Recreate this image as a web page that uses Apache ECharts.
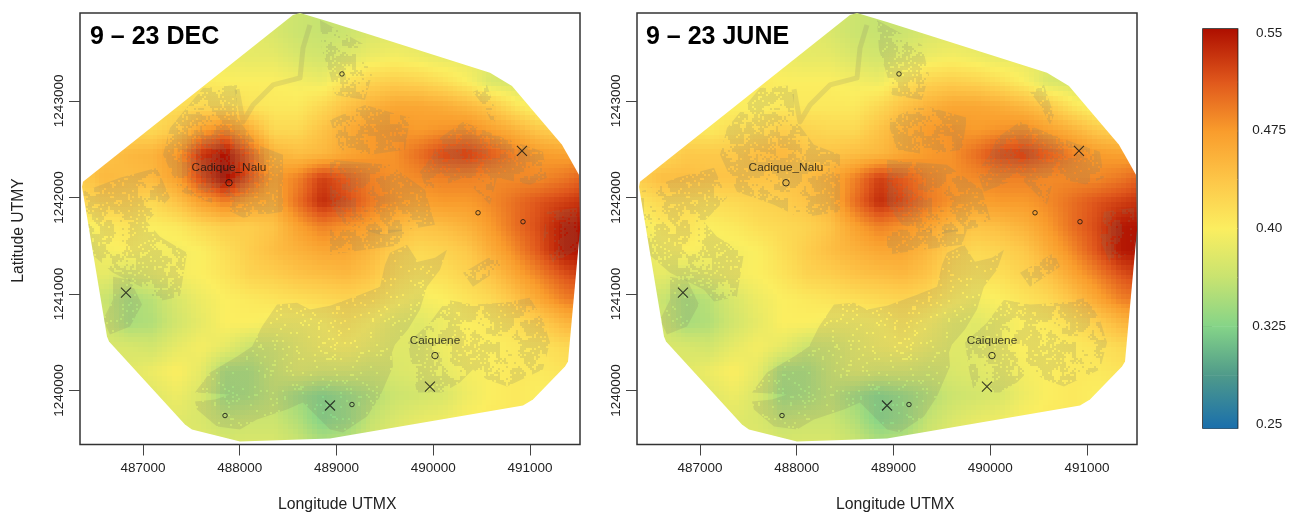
<!DOCTYPE html>
<html><head><meta charset="utf-8">
<style>html,body{margin:0;padding:0;background:#fff}#c{width:1289px;height:512px}</style>
<script src="https://cdn.jsdelivr.net/npm/echarts@6/dist/echarts.min.js"></script>
</head><body><div id="c"></div>
<script>
const xNodes = [486350,486600,486850,487100,487350,487600,487850,488100,488350,488600,488850,489100,489350,489600,489850,490100,490350,490600,490850,491100,491350,491600];
const yNodes = [1243950,1243700,1243450,1243200,1242950,1242700,1242450,1242200,1241950,1241700,1241450,1241200,1240950,1240700,1240450,1240200,1239950,1239700,1239450];

const decRows = [
[.39,.39,.39,.39,.39,.39,.39,.385,.375,.365,.36,.365,.375,.38,.38,.375,.375,.375,.375,.375,.375,.375],
[.39,.39,.39,.39,.39,.39,.39,.385,.375,.365,.362,.365,.375,.38,.38,.375,.375,.375,.375,.375,.375,.375],
[.395,.395,.395,.395,.395,.395,.39,.385,.385,.375,.37,.38,.39,.395,.39,.385,.385,.38,.38,.38,.38,.38],
[.41,.41,.41,.41,.41,.405,.40,.40,.40,.395,.39,.41,.425,.43,.425,.415,.40,.375,.37,.37,.37,.37],
[.41,.41,.41,.415,.415,.42,.42,.41,.405,.405,.42,.44,.455,.465,.465,.46,.45,.435,.41,.39,.385,.385],
[.42,.42,.42,.42,.435,.47,.49,.46,.42,.42,.44,.46,.475,.48,.475,.48,.485,.47,.455,.435,.425,.425],
[.44,.44,.45,.455,.475,.53,.55,.51,.455,.445,.45,.465,.475,.48,.50,.52,.525,.51,.49,.475,.47,.47],
[.43,.45,.445,.45,.47,.52,.555,.515,.47,.49,.525,.51,.49,.48,.485,.49,.49,.485,.485,.485,.495,.51],
[.42,.43,.43,.42,.44,.47,.49,.47,.46,.50,.535,.52,.495,.48,.47,.475,.475,.485,.50,.515,.525,.535],
[.39,.405,.41,.40,.405,.42,.43,.43,.44,.47,.49,.48,.47,.45,.44,.445,.455,.475,.50,.52,.545,.55],
[.385,.395,.40,.395,.395,.40,.415,.43,.445,.455,.465,.465,.45,.43,.42,.425,.435,.46,.485,.515,.545,.55],
[.38,.385,.375,.385,.395,.40,.41,.425,.43,.44,.445,.45,.44,.42,.41,.415,.425,.44,.465,.49,.515,.53],
[.365,.365,.345,.355,.375,.39,.40,.405,.41,.415,.42,.425,.42,.405,.395,.40,.41,.42,.44,.465,.49,.50],
[.37,.37,.345,.35,.37,.385,.40,.40,.395,.395,.40,.41,.40,.385,.38,.39,.40,.405,.415,.43,.45,.46],
[.375,.375,.375,.37,.385,.395,.385,.365,.37,.385,.395,.40,.39,.38,.38,.39,.40,.40,.405,.41,.42,.42],
[.38,.38,.38,.39,.40,.385,.345,.345,.365,.38,.375,.375,.37,.375,.38,.385,.395,.40,.405,.405,.41,.41],
[.38,.38,.38,.38,.39,.375,.34,.345,.36,.34,.325,.335,.35,.365,.37,.375,.39,.40,.405,.40,.40,.40],
[.38,.38,.38,.38,.38,.375,.36,.365,.365,.35,.325,.335,.36,.375,.385,.39,.40,.405,.405,.40,.40,.40],
[.38,.38,.38,.38,.38,.38,.375,.375,.375,.365,.35,.355,.37,.385,.39,.395,.40,.405,.405,.40,.40,.40]
];
const juneRows = [
decRows[0],decRows[1],decRows[2],decRows[3],
[.405,.405,.405,.40,.40,.40,.405,.405,.405,.405,.42,.44,.455,.465,.465,.46,.45,.435,.41,.39,.385,.385],
[.41,.41,.41,.405,.415,.42,.43,.425,.42,.42,.44,.46,.475,.48,.475,.48,.485,.47,.455,.435,.425,.425],
[.42,.42,.435,.435,.435,.445,.45,.44,.44,.445,.45,.465,.475,.48,.50,.52,.525,.51,.49,.475,.47,.47],
[.43,.445,.445,.44,.44,.44,.44,.445,.46,.49,.525,.51,.49,.48,.485,.49,.49,.485,.485,.485,.495,.51],
[.41,.42,.42,.415,.42,.425,.43,.44,.455,.50,.535,.52,.495,.48,.47,.475,.475,.485,.50,.515,.525,.535],
[.39,.405,.41,.40,.405,.415,.42,.425,.44,.47,.49,.48,.47,.45,.44,.445,.455,.475,.50,.52,.545,.55],
decRows[10],decRows[11],decRows[12],decRows[13],decRows[14],decRows[15],decRows[16],decRows[17],decRows[18]
];

// Colour ramp
const rampStops  = [.25,.2875,.325,.3625,.40,.4375,.475,.5125,.55];
const rampColors = ['#1a6fac','#4f9a8a','#85d488','#c8e370','#fbee60','#fdc648','#f99c2c','#e0581c','#ae0f00'];

// Outline of the interpolated domain
const hullX = [488623,488933,490587,490814,491331,491506,491517,491393,491362,491031,490928,488933,488003,487506,487434,486649,486628,486370,486380,488550];
const hullY = [1243910,1243817,1243290,1243155,1242545,1242234,1241665,1240300,1240248,1239907,1239845,1239503,1239472,1239597,1239648,1240507,1240559,1242110,1242162,1243890];

// Land outlines [easting, northing]
const landDense = [
 [[487537,1239979],[487693,1240186],[487972,1240352],[488127,1240455],[488230,1240662],[488385,1240890],[488592,1240910],[488726,1240838],[488933,1240879],[489243,1240993],[489450,1241076],[489501,1241303],[489553,1241427],[489729,1241510],[489842,1241334],[490018,1241376],[490142,1241459],[490070,1241252],[489935,1241076],[489863,1240838],[489739,1240631],[489605,1240476],[489574,1240393],[489584,1240248],[489450,1239938],[489315,1239731],[489067,1239566],[488933,1239597],[488829,1239700],[488654,1239876],[488488,1239803],[488178,1239700],[488003,1239597],[487765,1239628],[487558,1239803],[487537,1239886],[487744,1239907],[487899,1239959]],
 [[486690,1241179],[486866,1241148],[486990,1240890],[486866,1240662],[486659,1240579],[486587,1240734],[486690,1240941]]
];
const landSparse = [
 [[489739,1240497],[489966,1240703],[490142,1240941],[490411,1240890],[490721,1240910],[490999,1240962],[491134,1240734],[491207,1240497],[491134,1240217],[490762,1240041],[490556,1240114],[490411,1240217],[490276,1240083],[490101,1239979],[489832,1239979],[489780,1240217]],
 [[487279,1242720],[487620,1243134],[487972,1243165],[487972,1242824],[488178,1242545],[488447,1242441],[488447,1241852],[488034,1241790],[487765,1241924],[487382,1242058],[487207,1242441]],
 [[486380,1242058],[486762,1242203],[487145,1242307],[487279,1241996],[487041,1241748],[487176,1241593],[487455,1241427],[487382,1240972],[487145,1240921],[487041,1241045],[486690,1241221],[486452,1241427]],
 [[488829,1243838],[489295,1243579],[489367,1243269],[489295,1243010],[488985,1243062],[488933,1243269],[488850,1243527]],
 [[488933,1242803],[489295,1242958],[489760,1242824],[489708,1242493],[489346,1242441],[489036,1242493]],
 [[490070,1242617],[490308,1242783],[490721,1242617],[491134,1242472],[491176,1242203],[491000,1242131],[490659,1242203],[490587,1241924],[490308,1242203],[489935,1242058],[489863,1242265],[489997,1242441]],
 [[488933,1242390],[489553,1242338],[489915,1242079],[490018,1241717],[489450,1241614],[489088,1241717],[488933,1241924]],
 [[488933,1241665],[489760,1241665],[489708,1241510],[489295,1241459],[488933,1241407]],
 [[490308,1241221],[490659,1241427],[490721,1241283],[490411,1241076]],
 [[490411,1243093],[490556,1243165],[490659,1242855],[490618,1242752],[490514,1242958]],
 [[491176,1241852],[491486,1241893],[491496,1241459],[491238,1241324],[491134,1241562]]
];
const riverLine = [[488726,1243786],[488654,1243548],[488623,1243238],[488344,1243165],[488137,1242958],[488034,1242783],[487972,1243120]];

// Sites
const namedSites = [['Cadique_Nalu',487889,1242152],['Caiquene',490018,1240362]];
const smallSites = [[489057,1243279],[490463,1241841],[490928,1241748],[487848,1239741],[489160,1239855]];
const crossSites = [[490917,1242483],[486824,1241014],[488933,1239845],[489966,1240041]];

const xTicks = [487000,488000,489000,490000,491000];
const yTicks = [1240000,1241000,1242000,1243000];
const barTicks = [.25,.325,.40,.475,.55];
const barLabels = {0.25:'0.25',0.325:'0.325',0.4:'0.40',0.475:'0.475',0.55:'0.55'};
const panelTitles = ['9 \u2013 23 DEC','9 \u2013 23 JUNE'];

// ---- rendering ----
const SUB = 5;
function rampColor(v){
  let k=rampStops.length-2; for(let i=0;i<rampStops.length-1;i++){ if(v<=rampStops[i+1]){k=i;break;} }
  const f=Math.min(1,Math.max(0,(v-rampStops[k])/(rampStops[k+1]-rampStops[k])));
  return echarts.color.lerp(f,[rampColors[k],rampColors[k+1]]);
}
function hash(i,j){ let h=(i*73856093)^(j*19349663); h=Math.imul(h^(h>>>13),1274126177); return ((h^(h>>>16))>>>0)%1000/1000; }
// periodic smooth noise: gives the land texture its organic patches
function smooth(px,py,cell,per){
  const gx=px/cell,gy=py/cell,ix=Math.floor(gx),iy=Math.floor(gy);
  let fx=gx-ix,fy=gy-iy; fx=fx*fx*(3-2*fx); fy=fy*fy*(3-2*fy);
  const n=(a,b)=>hash((a%per)+per*3,(b%per)+per*7);
  return (n(ix,iy)*(1-fx)+n(ix+1,iy)*fx)*(1-fy)+(n(ix,iy+1)*(1-fx)+n(ix+1,iy+1)*fx)*fy;
}
// texture tiles for land: a fixed speckle, softened
function makePattern(clumped){
  const S=144,c=document.createElement('canvas'); c.width=c.height=S;
  const g=c.getContext('2d');
  for(let j=0;j<S;j+=2)for(let i=0;i<S;i+=2){
    let d=.94;
    if(clumped){ const b=.62*smooth(i,j,12,12)+.38*smooth(i,j,6,24); d=b>.47?.88:(b>.41?.45:.05); }
    if(hash(i+7,j+11)<d){ g.fillStyle='rgba(122,120,100,.19)'; g.fillRect(i,j,2,2); }
  }
  const o=document.createElement('canvas'); o.width=o.height=S;
  const q=o.getContext('2d'); q.filter='blur(.5px)'; q.drawImage(c,0,0);
  return o;
}
const patDense={image:makePattern(false),repeat:'repeat'};
const patSparse={image:makePattern(true),repeat:'repeat'};

function cellData(rows){
  const d=[];
  for(let j=0;j<rows.length-1;j++)for(let i=0;i<xNodes.length-1;i++)
    d.push([xNodes[i],yNodes[j],xNodes[i+1],yNodes[j+1],rows[j][i],rows[j][i+1],rows[j+1][i],rows[j+1][i+1]]);
  return d;
}
function hullPts(api){ return hullX.map((x,i)=>api.coord([x,hullY[i]])); }
function renderCell(p,api){
  const x0=api.value(0),y0=api.value(1),x1=api.value(2),y1=api.value(3);
  const a=api.value(4),b=api.value(5),c=api.value(6),d=api.value(7);
  const P0=api.coord([x0,y0]),P1=api.coord([x1,y1]);
  const kids=[];
  for(let m=0;m<SUB;m++)for(let n=0;n<SUB;n++){
    // shade each read cell between its four corner readings
    const u=(n+.5)/SUB,w=(m+.5)/SUB;
    const v=a*(1-u)*(1-w)+b*u*(1-w)+c*(1-u)*w+d*u*w;
    const L=Math.round(P0[0]+(P1[0]-P0[0])*n/SUB),R=Math.round(P0[0]+(P1[0]-P0[0])*(n+1)/SUB);
    const T=Math.round(P0[1]+(P1[1]-P0[1])*m/SUB),B=Math.round(P0[1]+(P1[1]-P0[1])*(m+1)/SUB);
    kids.push({type:'rect',shape:{x:L,y:T,width:R-L,height:B-T},style:{fill:rampColor(v)},silent:true});
  }
  return {type:'group',clipPath:{type:'polygon',shape:{points:hullPts(api)}},children:kids};
}
const landAll=[...landDense.map((_,i)=>['d',i]),...landSparse.map((_,i)=>['s',i]),['r',0]];
function renderLand(p,api){
  const kind=landAll[p.dataIndex][0],idx=landAll[p.dataIndex][1];
  const clip={type:'polygon',shape:{points:hullPts(api)}};
  if(kind==='r'){
    return {type:'group',clipPath:clip,children:[{type:'polyline',shape:{points:riverLine.map(q=>api.coord(q))},style:{fill:null,stroke:'rgba(122,120,100,.17)',lineWidth:5,lineJoin:'round'},silent:true}]};
  }
  const poly=(kind==='d'?landDense:landSparse)[idx];
  return {type:'group',clipPath:clip,children:[{type:'polygon',shape:{points:poly.map(q=>api.coord(q))},style:{fill:kind==='d'?patDense:patSparse},silent:true}]};
}
const ink='#222';
const axisLabelStyle={color:ink,fontFamily:'"Liberation Sans"',fontSize:13.5};
const xMin=486349,xMax=491517,yMin=1239441,yMax=1243910;
const panels=[{left:80,rows:decRows},{left:637,rows:juneRows}];
const grids=[],xAxes=[],yAxes=[],series=[];
panels.forEach((pn,k)=>{
  grids.push({left:pn.left,top:13,width:500,height:431.5,show:true,borderColor:'#333',borderWidth:1.5,backgroundColor:'transparent'});
  xAxes.push({type:'value',gridIndex:k,min:xMin,max:xMax,splitLine:{show:false},axisLine:{show:false},
    axisTick:{show:true,length:11,customValues:xTicks,lineStyle:{color:'#444',width:1}},
    axisLabel:{customValues:xTicks,margin:17,formatter:v=>String(v),...axisLabelStyle}});
  yAxes.push({type:'value',gridIndex:k,min:yMin,max:yMax,splitLine:{show:false},axisLine:{show:false},
    axisTick:{show:true,length:11,customValues:yTicks,lineStyle:{color:'#444',width:1}},
    axisLabel:{customValues:yTicks,rotate:90,margin:14,formatter:v=>String(v),...axisLabelStyle}});
  series.push({type:'custom',xAxisIndex:k,yAxisIndex:k,coordinateSystem:'cartesian2d',data:cellData(pn.rows),renderItem:renderCell,animation:false,silent:true,z:1,progressive:0,encode:{x:[0,2],y:[1,3]}});
  series.push({type:'custom',xAxisIndex:k,yAxisIndex:k,coordinateSystem:'cartesian2d',data:landAll.map((_,i)=>[xNodes[0],yNodes[0],i]),renderItem:renderLand,animation:false,silent:true,z:2,progressive:0});
  series.push({type:'scatter',xAxisIndex:k,yAxisIndex:k,data:namedSites.map(s=>({name:s[0],value:[s[1],s[2]]})),symbol:'circle',symbolSize:6.5,
    itemStyle:{color:'rgba(0,0,0,0)',borderColor:'#111',borderWidth:1},
    label:{show:true,position:'top',distance:5,formatter:'{b}',color:'#111',fontFamily:'"Liberation Sans"',fontSize:11.8},animation:false,silent:true,z:3});
  series.push({type:'scatter',xAxisIndex:k,yAxisIndex:k,data:smallSites,symbol:'circle',symbolSize:4.5,itemStyle:{color:'rgba(0,0,0,0)',borderColor:'#111',borderWidth:1},animation:false,silent:true,z:3});
  series.push({type:'scatter',xAxisIndex:k,yAxisIndex:k,data:crossSites,symbol:'path://M0 0L10 10M10 0L0 10',symbolSize:10,itemStyle:{color:'rgba(0,0,0,0)',borderColor:'#111',borderWidth:1.1},animation:false,silent:true,z:3});
});
// Colour bar
grids.push({left:1203,top:29,width:36,height:399,show:true,borderColor:'#111',borderWidth:1.5,backgroundColor:'transparent'});
xAxes.push({type:'value',gridIndex:2,min:0,max:1,show:false});
yAxes.push({type:'value',gridIndex:2,position:'right',min:.247,max:.553,splitLine:{show:false},axisLine:{show:false},
  axisTick:{show:true,length:9,customValues:barTicks,lineStyle:{color:'#333',width:1}},
  axisLabel:{customValues:barTicks,margin:31.5,align:'center',formatter:v=>barLabels[Math.round(v*1000)/1000]||String(v),...axisLabelStyle}});
series.push({type:'custom',xAxisIndex:2,yAxisIndex:2,coordinateSystem:'cartesian2d',animation:false,silent:true,z:1,
  data:rampStops.slice(0,-1).map((s,i)=>[s,rampStops[i+1],i]),
  renderItem(p,api){
    const i=api.value(2),lo=i===0?.247:api.value(0),hi=i===rampStops.length-2?.553:api.value(1);
    const a=api.coord([0,hi]),b=api.coord([1,lo]);
    return {type:'rect',shape:{x:a[0],y:a[1],width:b[0]-a[0],height:b[1]-a[1]+.5},
      style:{fill:new echarts.graphic.LinearGradient(0,0,0,1,[{offset:0,color:rampColors[i+1]},{offset:1,color:rampColors[i]}])},silent:true};
  }});
const titleStyle={color:'#000',fontFamily:'"Liberation Sans"',fontWeight:'bold',fontSize:25};
const nameStyle={color:ink,fontFamily:'"Liberation Sans"',fontSize:15.8,fontWeight:'normal'};
const chart=echarts.init(document.getElementById('c'),null,{renderer:'canvas'});
chart.setOption({animation:false,backgroundColor:'#fff',
  title:[
   {text:panelTitles[0],left:90,top:25,padding:0,textStyle:titleStyle},
   {text:panelTitles[1],left:646,top:25,padding:0,textStyle:titleStyle},
   {text:'Longitude UTMX',left:278,top:497,padding:0,textStyle:nameStyle},
   {text:'Longitude UTMX',left:836,top:497,padding:0,textStyle:nameStyle}
  ],
  graphic:[{type:'text',x:19,y:230.5,rotation:Math.PI/2,style:{text:'Latitude UTMY',align:'center',verticalAlign:'middle',fill:ink,font:'15.7px "Liberation Sans"'},silent:true}],
  grid:grids,xAxis:xAxes,yAxis:yAxes,series});
</script></body></html>
